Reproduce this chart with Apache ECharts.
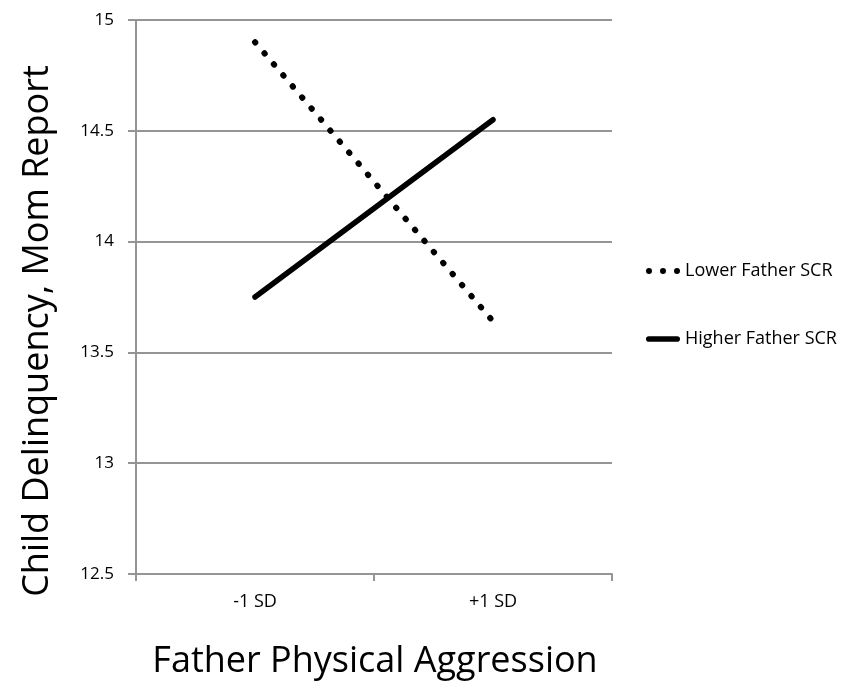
<!DOCTYPE html>
<html><head><meta charset="utf-8">
<script src="https://cdn.jsdelivr.net/npm/echarts@6/dist/echarts.min.js"></script>
<style>html,body{margin:0;padding:0;background:#fff}#c{width:856px;height:687px}</style>
</head><body><div id="c"></div>
<script>
var categories = ['-1 SD', '+1 SD'];
var lowerSCR = [14.9, 13.64];
var higherSCR = [13.75, 14.55];
var seriesNames = ['Lower Father SCR', 'Higher Father SCR'];
var FONT = '"Open Sans", "Liberation Sans", sans-serif';
var GRID = '#959595';
var DOTS_ICON = 'path://M0,3a3,3 0 1,0 6,0a3,3 0 1,0 -6,0z M14,3a3,3 0 1,0 6,0a3,3 0 1,0 -6,0z M28,3a3,3 0 1,0 6,0a3,3 0 1,0 -6,0z';
var BAR_ICON = 'path://M3,0L33,0A3,3 0 0,1 33,6L3,6A3,3 0 0,1 3,0z';
var chart = echarts.init(document.getElementById('c'));
chart.setOption({
  animation: false,
  backgroundColor: '#fff',
  grid: {left: 136, right: 244, top: 20, bottom: 113},
  legend: {
    orient: 'vertical', left: 646, top: 262, itemGap: 50, padding: 0,
    itemWidth: 34, itemHeight: 6,
    textStyle: {fontFamily: FONT, fontSize: 18, color: '#000', lineHeight: 18},
    data: [
      {name: seriesNames[0], icon: DOTS_ICON, itemStyle: {color: '#000', opacity: 1}},
      {name: seriesNames[1], icon: BAR_ICON, itemStyle: {color: '#000', opacity: 1}}
    ]
  },
  xAxis: {
    type: 'category', data: categories, boundaryGap: true,
    axisLine: {lineStyle: {color: GRID, width: 2}},
    axisTick: {show: true, length: 7, lineStyle: {color: GRID, width: 2}},
    axisLabel: {fontFamily: FONT, fontSize: 18, color: '#000', margin: 19},
    splitLine: {show: false}
  },
  yAxis: {
    type: 'value', min: 12.5, max: 15, interval: 0.5,
    axisLine: {show: true, lineStyle: {color: GRID, width: 2}},
    axisTick: {show: true, length: 8, lineStyle: {color: GRID, width: 2}},
    axisLabel: {fontFamily: FONT, fontSize: 17, color: '#000', margin: 22},
    splitLine: {show: true, lineStyle: {color: GRID, width: 2}}
  },
  graphic: [
    {type: 'text', x: 38, y: 331, rotation: Math.PI/2,
      style: {text: 'Child Delinquency, Mom Report', fontFamily: FONT, fontSize: 36, fill: '#000',
        align: 'center', verticalAlign: 'middle'}},
    {type: 'text', x: 375, y: 662,
      style: {text: 'Father Physical Aggression', fontFamily: FONT, fontSize: 36, fill: '#000',
        align: 'center', verticalAlign: 'middle'}}
  ],
  series: [
    {name: seriesNames[0], type: 'line', data: lowerSCR, symbol: 'none',
      lineStyle: {color: '#000', width: 6, type: [0.5, 14], cap: 'round'},
      itemStyle: {color: '#000'}},
    {name: seriesNames[1], type: 'line', data: higherSCR, symbol: 'none',
      lineStyle: {color: '#000', width: 5.5, cap: 'round'},
      itemStyle: {color: '#000'}}
  ]
});
</script></body></html>
